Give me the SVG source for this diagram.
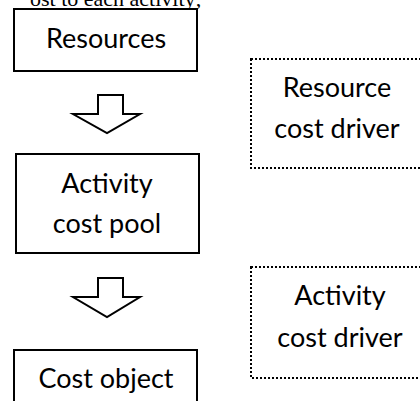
<svg xmlns="http://www.w3.org/2000/svg" width="420" height="401" viewBox="0 0 420 401">
<style>
.box{fill:#fff;stroke:#000;stroke-width:2}
.dot{fill:none;stroke:#000;stroke-width:2;stroke-dasharray:2 2}
.arr{fill:#fff;stroke:#000;stroke-width:2;stroke-linejoin:miter}
.lbl{font-family:Lato,"Liberation Sans",sans-serif;font-size:27px;fill:#000;text-anchor:middle}
.top{font-family:"Liberation Serif",serif;font-size:22px;fill:#000}
</style>
<rect width="420" height="401" fill="#fff"/>
<text class="top" x="30" y="6">ost to each activity;</text>
<g id="resources">
<rect class="box" x="14" y="9" width="183" height="62"/>
<text class="lbl" x="106" y="48">Resources</text>
</g>
<g id="activity-cost-pool">
<rect class="box" x="16" y="154" width="183" height="99"/>
<text class="lbl" x="107" y="193">Activity</text>
<text class="lbl" x="107" y="233">cost pool</text>
</g>
<g id="cost-object">
<rect class="box" x="14" y="350" width="183" height="60"/>
<text class="lbl" x="106" y="388">Cost object</text>
</g>
<g id="resource-cost-driver">
<rect class="dot" x="251" y="59" width="180" height="109"/>
<text class="lbl" x="337" y="97">Resource</text>
<text class="lbl" x="337" y="138">cost driver</text>
</g>
<g id="activity-cost-driver">
<rect class="dot" x="251" y="267" width="180" height="111"/>
<text class="lbl" x="340" y="305">Activity</text>
<text class="lbl" x="340" y="347">cost driver</text>
</g>
<g id="connectors">
<polygon class="arr" points="98,95 123,95 123,114 140,114 107,133 73,114 98,114"/>
<polygon class="arr" points="98,278 123,278 123,297 140,297 107,317 73,297 98,297"/>
</g>
</svg>
